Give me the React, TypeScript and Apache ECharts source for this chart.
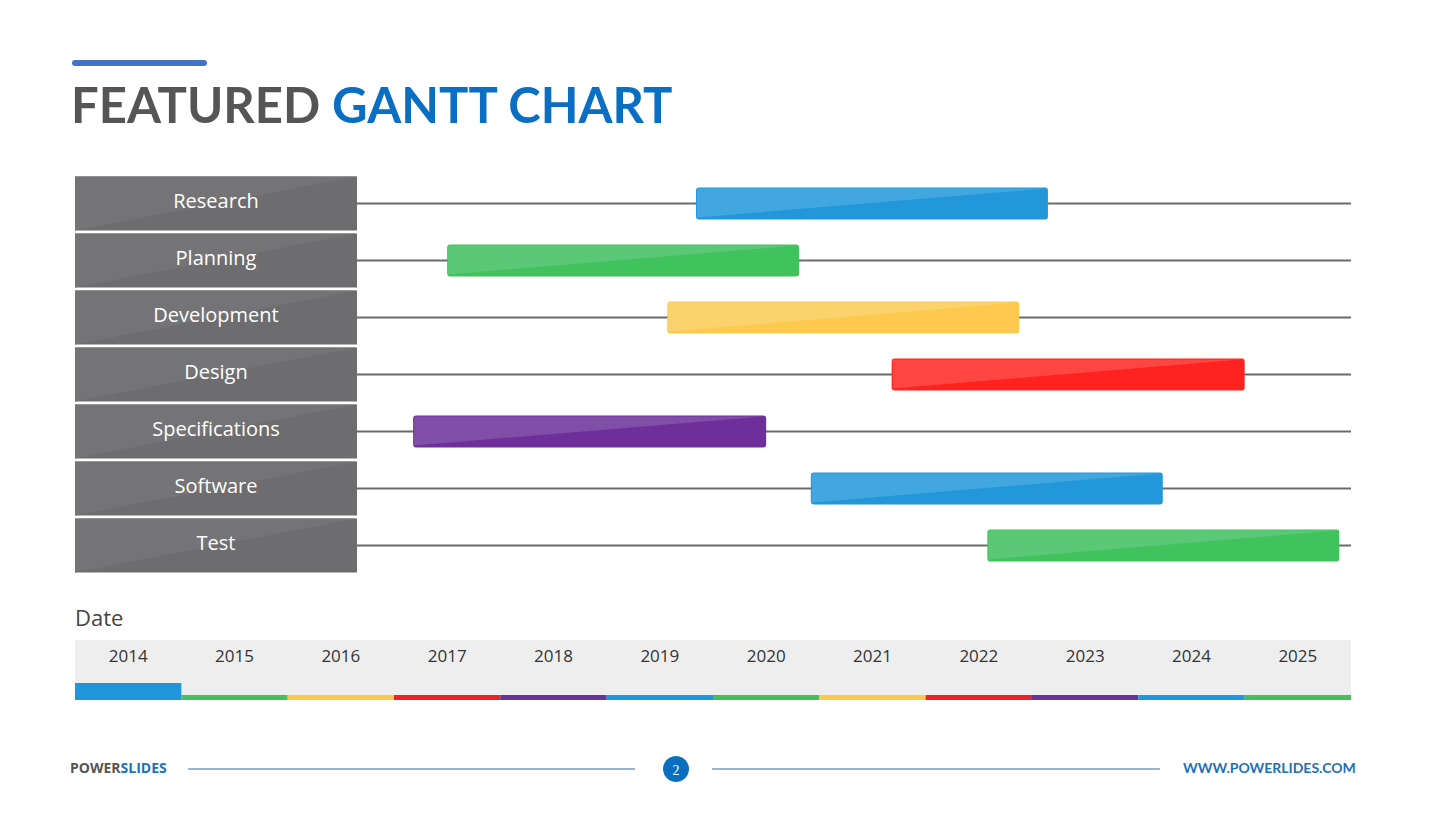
import React, { useEffect, useRef } from "react";
import * as echarts from "echarts";

const categories = ["Research", "Planning", "Development", "Design", "Specifications", "Software", "Test"];
const startYears = [2019.84, 2017.5, 2019.57, 2021.68, 2017.18, 2020.92, 2022.58];
const endYears = [2023.15, 2020.81, 2022.88, 2025.0, 2020.5, 2024.23, 2025.89];
const taskColorIdx = [0, 1, 2, 3, 4, 0, 1];
const years = ["2014", "2015", "2016", "2017", "2018", "2019", "2020", "2021", "2022", "2023", "2024", "2025"];
const currentYear = "2014";

const palette = [
  { light: "#43a7df", dark: "#2298da" },
  { light: "#5bc878", dark: "#40c25d" },
  { light: "#fad36f", dark: "#fdca4f" },
  { light: "#fd4542", dark: "#fe2220" },
  { light: "#7f4ea6", dark: "#6e2f9a" },
];
const stripColors = ["#2196db", "#45be5b", "#fcc94f", "#e8252a", "#6a3496"];

const LABEL_W = 282;

export default function App() {
  const ref = useRef<HTMLDivElement>(null);
  useEffect(() => {
    if (!ref.current) return;
    const chart = echarts.init(ref.current, null, { renderer: "svg" });
    const minYear = Number(years[0]);
    const maxYear = Number(years[years.length - 1]) + 1;

    const option: any = {
      animation: false,
      backgroundColor: "#ffffff",
      grid: [
        { left: 75, width: 1276, top: 175, height: 399 },
        { left: 75, width: 1276, top: 640, height: 60, show: true, backgroundColor: "#eeeeef", borderWidth: 0 },
      ],
      xAxis: [
        { gridIndex: 0, type: "value", min: minYear, max: maxYear, show: false },
        {
          gridIndex: 1,
          type: "category",
          data: years,
          position: "top",
          axisLine: { show: false },
          axisTick: { show: false },
          axisLabel: { inside: true, margin: 7, color: "#333333", fontSize: 17, fontFamily: "Open Sans" },
        },
      ],
      yAxis: [
        { gridIndex: 0, type: "category", data: categories, inverse: true, show: false },
        { gridIndex: 1, type: "value", min: 0, max: 60, show: false },
      ],
      series: [
        {
          type: "custom",
          xAxisIndex: 0,
          yAxisIndex: 0,
          clip: false,
          z: 1,
          encode: { x: 0, y: 1 },
          data: categories.map((c, i) => [minYear, i]),
          renderItem: (params: any, api: any) => {
            const cs = params.coordSys;
            const idx = api.value(1);
            const cy = api.coord([minYear, idx])[1];
            const bh = 54;
            const x0 = cs.x;
            const y0 = cy - bh / 2;
            return {
              type: "group",
              children: [
                {
                  type: "line",
                  shape: { x1: x0 + LABEL_W, y1: cy, x2: cs.x + cs.width, y2: cy },
                  style: { stroke: "#6b6b6b", lineWidth: 2 },
                },
                {
                  type: "rect",
                  shape: { x: x0, y: y0, width: LABEL_W, height: bh },
                  style: { fill: "#6d6d6f" },
                },
                {
                  type: "polygon",
                  shape: { points: [[x0, y0], [x0 + LABEL_W, y0], [x0, y0 + bh]] },
                  style: { fill: "#747476" },
                },
                {
                  type: "text",
                  style: {
                    text: categories[idx],
                    x: x0 + LABEL_W / 2,
                    y: cy - 3,
                    align: "center",
                    verticalAlign: "middle",
                    fill: "#ffffff",
                    font: '20px "Open Sans"',
                  },
                },
              ],
            };
          },
        },
        {
          type: "custom",
          xAxisIndex: 0,
          yAxisIndex: 0,
          clip: false,
          z: 2,
          encode: { x: [0, 1], y: 2 },
          data: categories.map((c, i) => [startYears[i], endYears[i], i]),
          renderItem: (params: any, api: any) => {
            const idx = api.value(2);
            const s = api.coord([api.value(0), idx]);
            const e = api.coord([api.value(1), idx]);
            const h = api.size([0, 1])[1] * 0.56;
            const x0 = s[0];
            const x1 = e[0];
            const y0 = s[1] - h / 2;
            const col = palette[taskColorIdx[idx]];
            return {
              type: "group",
              children: [
                {
                  type: "rect",
                  shape: { x: x0, y: y0, width: x1 - x0, height: h, r: 3 },
                  style: { fill: col.dark },
                },
                {
                  type: "polygon",
                  shape: { points: [[x0 + 1, y0 + 1], [x1 - 3, y0 + 1], [x0 + 1, y0 + h - 2]] },
                  style: { fill: col.light },
                },
              ],
            };
          },
        },
        {
          type: "bar",
          xAxisIndex: 1,
          yAxisIndex: 1,
          barWidth: "100%",
          barCategoryGap: 0,
          data: years.map((y, i) => ({
            value: y === currentYear ? 17 : 5,
            itemStyle: { color: stripColors[i % stripColors.length] },
          })),
        },
      ],
      graphic: [
        { type: "rect", shape: { x: 72, y: 60, width: 135, height: 6, r: 3 }, style: { fill: "#4472c4" } },
        {
          type: "text",
          x: 71,
          y: 104,
          style: {
            text: "{a|FEATURED} {b|GANTT CHART}",
            verticalAlign: "middle",
            rich: {
              a: { fill: "#555555", font: 'bold 49px Lato' },
              b: { fill: "#0a6fc2", font: 'bold 49px Lato' },
            },
            font: 'bold 49px Lato',
          },
        },
        {
          type: "text",
          x: 75,
          y: 617,
          style: { text: "Date", fill: "#444444", font: '22px "Open Sans"', verticalAlign: "middle" },
        },
        {
          type: "text",
          x: 70,
          y: 767,
          style: {
            text: "{a|POWER}{b|SLIDES}",
            verticalAlign: "middle",
            rich: {
              a: { fill: "#555555", font: 'bold 14px "Open Sans"' },
              b: { fill: "#1a73c0", font: 'bold 14px "Open Sans"' },
            },
            font: 'bold 14px "Open Sans"',
          },
        },
        { type: "line", shape: { x1: 188, y1: 769, x2: 635, y2: 769 }, style: { stroke: "#2f6aa5", lineWidth: 1 } },
        { type: "line", shape: { x1: 712, y1: 769, x2: 1160, y2: 769 }, style: { stroke: "#2f6aa5", lineWidth: 1 } },
        { type: "circle", shape: { cx: 676, cy: 769, r: 13 }, style: { fill: "#0b6fc0" } },
        {
          type: "text",
          x: 676,
          y: 770,
          style: { text: "2", fill: "#ffffff", font: '14px "Liberation Serif"', align: "center", verticalAlign: "middle" },
        },
        {
          type: "text",
          x: 1183,
          y: 767,
          style: { text: "WWW.POWERLIDES.COM", fill: "#1e6fb5", font: 'bold 14px Lato', verticalAlign: "middle" },
        },
      ],
    };
    chart.setOption(option);
    return () => chart.dispose();
  }, []);
  return (
    <div
      ref={ref}
      style={{ position: "fixed", left: 0, top: 0, width: 1452, height: 813 }}
    />
  );
}
